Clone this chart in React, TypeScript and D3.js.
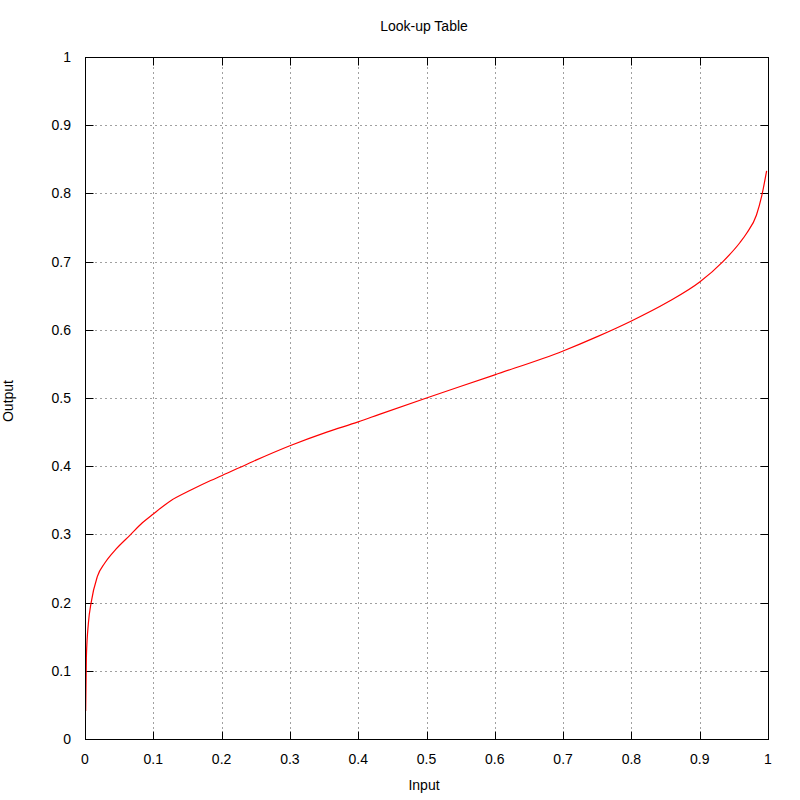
import { FC, useEffect, useRef } from 'react';
import * as d3 from 'd3';

// look-up table samples
const inputs = [
  0.001, 0.002, 0.005, 0.009, 0.018, 0.029, 0.045, 0.066, 0.084, 0.1, 0.125, 0.155, 0.184,
  0.2, 0.246, 0.3, 0.354, 0.4, 0.431, 0.5, 0.6, 0.7, 0.75, 0.8, 0.852, 0.9, 0.934,
  0.959, 0.969, 0.983, 0.991, 0.998,
];
const outputs = [
  0.041, 0.12, 0.17, 0.2, 0.238, 0.258, 0.278, 0.299, 0.317, 0.33, 0.349, 0.365, 0.379,
  0.386, 0.407, 0.43, 0.45, 0.465, 0.476, 0.5, 0.534, 0.569, 0.59, 0.613, 0.64, 0.67, 0.7,
  0.728, 0.742, 0.768, 0.797, 0.833,
];
const tickValues = [0, 0.1, 0.2, 0.3, 0.4, 0.5, 0.6, 0.7, 0.8, 0.9, 1];
const tickLabels = ['0', '0.1', '0.2', '0.3', '0.4', '0.5', '0.6', '0.7', '0.8', '0.9', '1'];

const App: FC = () => {
  const ref = useRef<SVGSVGElement | null>(null);

  useEffect(() => {
    const svg = d3.select(ref.current);
    svg.selectAll('*').remove();

    const left = 85;
    const right = 768;
    const top = 57;
    const bottom = 739;
    const font = '"Liberation Sans", Arial, sans-serif';

    const x = d3.scaleLinear().domain([0, 1]).range([left, right]);
    const y = d3.scaleLinear().domain([0, 1]).range([bottom, top]);
    const px = (v: number) => Math.round(v) + 0.5;

    svg.append('rect').attr('width', 800).attr('height', 800).attr('fill', 'white');

    // grid
    const inner = tickValues.slice(1, -1);
    svg.append('g')
      .selectAll('line')
      .data(inner)
      .enter()
      .append('line')
      .attr('x1', d => px(x(d)))
      .attr('x2', d => px(x(d)))
      .attr('y1', top)
      .attr('y2', bottom)
      .attr('stroke', '#a0a0a0')
      .attr('stroke-dasharray', '2,3');
    svg.append('g')
      .selectAll('line')
      .data(inner)
      .enter()
      .append('line')
      .attr('y1', d => px(y(d)))
      .attr('y2', d => px(y(d)))
      .attr('x1', left)
      .attr('x2', right)
      .attr('stroke', '#a0a0a0')
      .attr('stroke-dasharray', '2,3');

    // ticks (inward on all sides)
    const tk = 8;
    const ticks = svg.append('g').attr('stroke', 'black');
    tickValues.forEach(v => {
      const xx = px(x(v));
      const yy = px(y(v));
      ticks.append('line').attr('x1', xx).attr('x2', xx).attr('y1', px(bottom)).attr('y2', px(bottom) - tk);
      ticks.append('line').attr('x1', xx).attr('x2', xx).attr('y1', px(top)).attr('y2', px(top) + tk);
      ticks.append('line').attr('y1', yy).attr('y2', yy).attr('x1', px(left)).attr('x2', px(left) + tk);
      ticks.append('line').attr('y1', yy).attr('y2', yy).attr('x1', px(right)).attr('x2', px(right) - tk);
    });

    // tick labels
    svg.append('g')
      .selectAll('text')
      .data(tickValues)
      .enter()
      .append('text')
      .attr('x', d => x(d))
      .attr('y', 764)
      .attr('text-anchor', 'middle')
      .attr('font-family', font)
      .attr('font-size', 14)
      .text((d, i) => tickLabels[i]);
    svg.append('g')
      .selectAll('text')
      .data(tickValues)
      .enter()
      .append('text')
      .attr('x', 71)
      .attr('y', d => y(d))
      .attr('dy', '0.36em')
      .attr('text-anchor', 'end')
      .attr('font-family', font)
      .attr('font-size', 14)
      .text((d, i) => tickLabels[i]);

    // curve
    const pts = inputs.map((v, i) => [v, outputs[i]] as [number, number]);
    svg.append('path')
      .datum(pts)
      .attr('fill', 'none')
      .attr('stroke', 'red')
      .attr('stroke-width', 1.2)
      .attr('d', d3.line<[number, number]>().x(d => x(d[0])).y(d => y(d[1])).curve(d3.curveMonotoneX));

    // border
    svg.append('rect')
      .attr('x', px(left))
      .attr('y', px(top))
      .attr('width', right - left)
      .attr('height', bottom - top)
      .attr('fill', 'none')
      .attr('stroke', 'black');

    // titles
    svg.append('text')
      .attr('x', 424)
      .attr('y', 31)
      .attr('text-anchor', 'middle')
      .attr('font-family', font)
      .attr('font-size', 14)
      .text('Look-up Table');
    svg.append('text')
      .attr('x', 424)
      .attr('y', 790)
      .attr('text-anchor', 'middle')
      .attr('font-family', font)
      .attr('font-size', 14)
      .text('Input');
    svg.append('text')
      .attr('transform', 'translate(12.5,401) rotate(-90)')
      .attr('text-anchor', 'middle')
      .attr('font-family', font)
      .attr('font-size', 14)
      .text('Output');
  }, []);

  return (
    <div style={{ position: 'absolute', left: 0, top: 0 }}>
      <svg ref={ref} width={800} height={800} style={{ display: 'block' }} />
    </div>
  );
};

export default App;
